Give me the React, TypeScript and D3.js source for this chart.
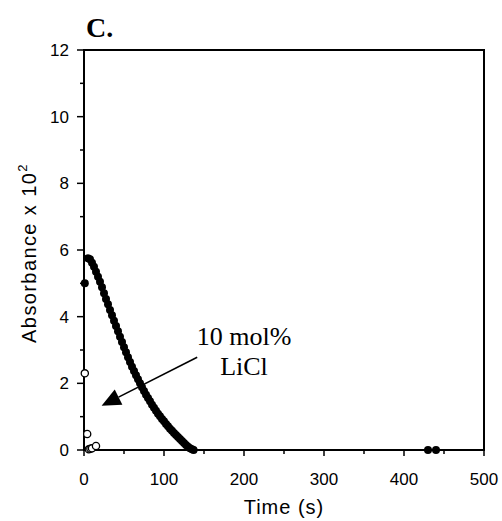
import React from "react";
import * as d3 from "d3";

const filledT = [1, 5, 7.5, 10, 12.5, 15, 17.5, 20, 22.5, 25, 27.5, 30, 32.5, 35, 37.5, 40, 42.5, 45, 47.5, 50, 52.5, 55, 57.5, 60, 62.5, 65, 67.5, 70, 72.5, 75, 77.5, 80, 82.5, 85, 87.5, 90, 92.5, 95, 97.5, 100, 102.5, 105, 107.5, 110, 112.5, 115, 117.5, 120, 122.5, 125, 127.5, 130, 132.5, 135, 137, 430, 440];
const filledY = [5.0, 5.75, 5.72, 5.62, 5.5, 5.35, 5.2, 5.05, 4.88, 4.7, 4.53, 4.37, 4.2, 4.04, 3.88, 3.72, 3.56, 3.4, 3.24, 3.08, 2.93, 2.78, 2.64, 2.5, 2.37, 2.24, 2.12, 2.0, 1.88, 1.77, 1.66, 1.56, 1.46, 1.36, 1.27, 1.18, 1.09, 1.01, 0.93, 0.86, 0.78, 0.71, 0.64, 0.58, 0.51, 0.45, 0.39, 0.33, 0.27, 0.21, 0.15, 0.1, 0.05, 0.02, 0.0, 0.0, 0.0];
const openT = [1, 4, 6, 8, 10, 15];
const openY = [2.3, 0.48, 0.02, 0.04, 0.05, 0.12];

const xMajor = [0, 100, 200, 300, 400, 500];
const xMinor = [50, 150, 250, 350, 450];
const yMajor = [0, 2, 4, 6, 8, 10, 12];
const yMinor = [1, 3, 5, 7, 9, 11];

const panelLabel = "C.";
const xTitle = "Time (s)";
const yTitle = "Absorbance x 10";
const yTitleSup = "2";
const annotation = ["10 mol%", "LiCl"];

export default function App() {
  const left = 84, right = 484, top = 50, bottom = 450;
  const x = d3.scaleLinear().domain([0, 500]).range([left, right]);
  const y = d3.scaleLinear().domain([0, 12]).range([bottom, top]);
  const sans = "Arial, 'Liberation Sans', sans-serif";
  const serif = "'Times New Roman', 'Liberation Serif', serif";

  const tip: [number, number] = [x(22), y(1.33)];
  const tail: [number, number] = [x(141.5), y(2.78)];
  const dx = tail[0] - tip[0], dy = tail[1] - tip[1];
  const len = Math.hypot(dx, dy);
  const ux = dx / len, uy = dy / len;
  const headL = 19, headW = 8.5;
  const bx = tip[0] + ux * headL, by = tip[1] + uy * headL;
  const p1 = [bx - uy * headW, by + ux * headW];
  const p2 = [bx + uy * headW, by - ux * headW];

  return (
    <svg width={502} height={521} style={{ position: "absolute", left: 0, top: 0, background: "#fff" }}>
      <rect x={0} y={0} width={502} height={521} fill="#fff" />
      <text x={86} y={37} fontFamily={serif} fontWeight="bold" fontSize={28}>{panelLabel}</text>

      <path d={`M${left},${top}H${right}V${bottom}H${left}Z`} fill="none" stroke="#000" strokeWidth={2} />

      {yMajor.map((v) => (
        <g key={"ym" + v}>
          <line x1={left - 7} x2={left} y1={y(v)} y2={y(v)} stroke="#000" strokeWidth={1.5} />
          <text x={69} y={y(v)} dy="0.36em" textAnchor="end" fontFamily={sans} fontSize={17}>{v}</text>
        </g>
      ))}
      {yMinor.map((v) => (
        <line key={"yn" + v} x1={left - 4} x2={left} y1={y(v)} y2={y(v)} stroke="#000" strokeWidth={1.5} />
      ))}
      {xMajor.map((v) => (
        <g key={"xm" + v}>
          <line x1={x(v)} x2={x(v)} y1={bottom} y2={bottom + 6} stroke="#000" strokeWidth={1.5} />
          <text x={x(v)} y={485} textAnchor="middle" fontFamily={sans} fontSize={17}>{v}</text>
        </g>
      ))}
      {xMinor.map((v) => (
        <line key={"xn" + v} x1={x(v)} x2={x(v)} y1={bottom} y2={bottom + 4} stroke="#000" strokeWidth={1.5} />
      ))}

      <text x={(left + right) / 2} y={514} textAnchor="middle" fontFamily={sans} fontSize={20} letterSpacing={1}>{xTitle}</text>
      <text transform={`translate(36,${253}) rotate(-90)`} textAnchor="middle" fontFamily={sans} fontSize={20} letterSpacing={1.4}>
        {yTitle}
        <tspan fontSize={13} dy={-9}>{yTitleSup}</tspan>
      </text>

      {filledT.map((t, i) => (
        <circle key={"f" + i} cx={x(t)} cy={y(filledY[i])} r={4} fill="#000" />
      ))}
      {openT.map((t, i) => (
        <circle key={"o" + i} cx={x(t)} cy={y(openY[i])} r={3.6} fill="#fff" stroke="#000" strokeWidth={1.3} />
      ))}

      <line x1={tail[0]} y1={tail[1]} x2={bx} y2={by} stroke="#000" strokeWidth={1.6} />
      <path d={`M${tip[0]},${tip[1]}L${p1[0]},${p1[1]}L${p2[0]},${p2[1]}Z`} fill="#000" />
      <text x={244} y={345} textAnchor="middle" fontFamily={serif} fontSize={26}>{annotation[0]}</text>
      <text x={244} y={375} textAnchor="middle" fontFamily={serif} fontSize={26}>{annotation[1]}</text>
    </svg>
  );
}
